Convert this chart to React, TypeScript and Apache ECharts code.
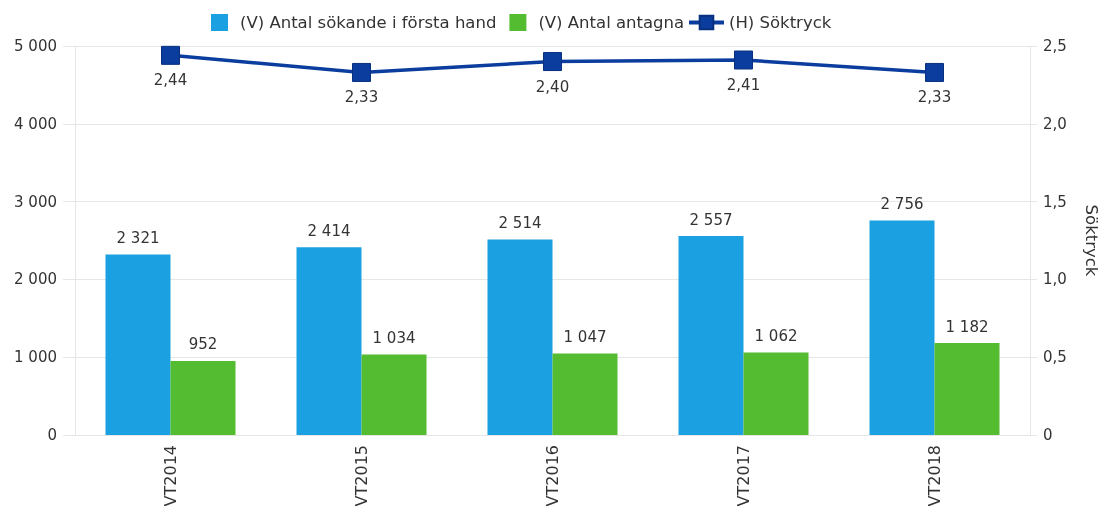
import React, { useEffect, useRef } from "react";
import * as echarts from "echarts";

const categories = ["VT2014", "VT2015", "VT2016", "VT2017", "VT2018"];
const applicants = [2321, 2414, 2514, 2557, 2756];
const admitted = [952, 1034, 1047, 1062, 1182];
const pressure = [2.44, 2.33, 2.4, 2.41, 2.33];

const seriesNames = ["(V) Antal sökande i första hand", "(V) Antal antagna", "(H) Söktryck"];
const colors = ["#1ba1e2", "#54bc30", "#0b3d9e"];

const FONT = "DejaVu Sans, Verdana, sans-serif";
const thousands = (v: number) => String(Math.round(v)).replace(/\B(?=(\d{3})+(?!\d))/g, " ");
const decimal = (v: number, d: number) => (v === 0 ? "0" : v.toFixed(d).replace(".", ","));

export default function App() {
  const ref = useRef<HTMLDivElement>(null);
  useEffect(() => {
    if (!ref.current) return;
    const chart = echarts.init(ref.current, undefined, { renderer: "svg" });
    const gridColor = "#e6e6e6";
    chart.setOption({
      animation: false,
      textStyle: { fontFamily: FONT },
      legend: [
        {
          left: 211,
          top: 14,
          padding: 0,
          itemWidth: 17,
          itemHeight: 17,
          itemGap: 13,
          icon: "rect",
          data: [seriesNames[0], seriesNames[1]],
          textStyle: { fontSize: 16.5, color: "#333", fontFamily: FONT, padding: [0, 0, 0, 7] },
        },
        {
          left: 687,
          top: 14,
          padding: 0,
          itemWidth: 35,
          itemHeight: 17,
          lineStyle: { width: 4 },
          data: [seriesNames[2]],
          textStyle: { fontSize: 16.5, color: "#333", fontFamily: FONT },
        },
      ],
      grid: { left: 75, right: 70, top: 46, bottom: 71, containLabel: false, outerBoundsMode: "none" },
      xAxis: {
        type: "category",
        data: categories,
        axisTick: { show: false },
        axisLine: { lineStyle: { color: gridColor, width: 1 } },
        axisLabel: { rotate: 90, fontSize: 16, color: "#333", margin: 10, fontFamily: FONT },
      },
      yAxis: [
        {
          type: "value",
          min: 0,
          max: 5000,
          interval: 1000,
          axisLine: { show: true, lineStyle: { color: gridColor } },
          axisTick: { show: true, length: 12, lineStyle: { color: gridColor } },
          splitLine: { lineStyle: { color: gridColor } },
          axisLabel: { fontSize: 15, color: "#333", margin: 18, formatter: thousands, fontFamily: FONT },
        },
        {
          type: "value",
          min: 0,
          max: 2.5,
          interval: 0.5,
          position: "right",
          name: "Söktryck",
          nameLocation: "middle",
          nameRotate: -90,
          nameGap: 53,
          nameTextStyle: { fontSize: 16.5, color: "#333", fontFamily: FONT },
          axisLine: { show: true, lineStyle: { color: gridColor } },
          axisTick: { show: true, length: 7, lineStyle: { color: gridColor } },
          splitLine: { show: false },
          axisLabel: { fontSize: 15, color: "#333", margin: 13, formatter: (v: number) => decimal(v, 1), fontFamily: FONT },
        },
      ],
      series: [
        {
          name: seriesNames[0],
          type: "bar",
          data: applicants,
          barWidth: 65,
          barGap: "0%",
          itemStyle: { color: colors[0] },
          label: { show: true, position: "top", distance: 9, fontSize: 15, color: "#333", formatter: (p: any) => thousands(p.value), fontFamily: FONT },
        },
        {
          name: seriesNames[1],
          type: "bar",
          data: admitted,
          barWidth: 65,
          barGap: "0%",
          itemStyle: { color: colors[1] },
          label: { show: true, position: "top", distance: 9, fontSize: 15, color: "#333", formatter: (p: any) => thousands(p.value), fontFamily: FONT },
        },
        {
          name: seriesNames[2],
          type: "line",
          yAxisIndex: 1,
          data: pressure,
          symbol: "rect",
          symbolSize: 18,
          lineStyle: { color: colors[2], width: 3.5 },
          itemStyle: { color: colors[2], borderColor: "#08307e", borderWidth: 1 },
          label: { show: true, position: "bottom", distance: 8, fontSize: 15, color: "#333", formatter: (p: any) => decimal(p.value, 2), fontFamily: FONT },
        },
      ],
    });
    return () => chart.dispose();
  }, []);
  return <div ref={ref} style={{ position: "fixed", left: 0, top: 0, width: 1100, height: 506 }} />;
}
